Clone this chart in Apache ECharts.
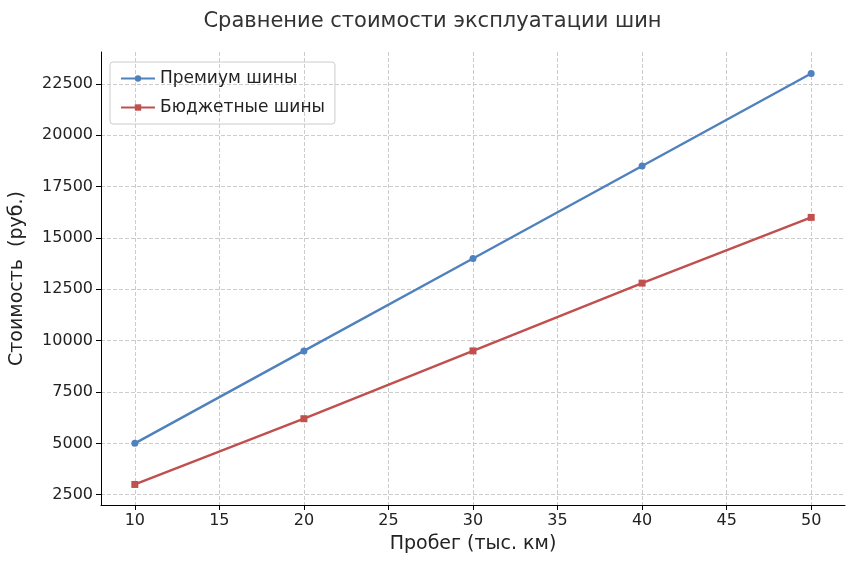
<!DOCTYPE html>
<html>
<head>
<meta charset="utf-8">
<script src="https://cdn.jsdelivr.net/npm/echarts@6/dist/echarts.min.js"></script>
<style>html,body{margin:0;padding:0;background:#fff}#chart{width:865px;height:563px}</style>
</head>
<body>
<div id="chart"></div>
<script>
// данные
const mileage = [10, 20, 30, 40, 50]
const premium = [5000, 9500, 14000, 18500, 23000]
const budget = [3000, 6200, 9500, 12800, 16000]
const xTicks = [10, 15, 20, 25, 30, 35, 40, 45, 50]
const yTicks = [2500, 5000, 7500, 10000, 12500, 15000, 17500, 20000, 22500]

const font = 'DejaVu Sans'
const chart = echarts.init(document.getElementById('chart'))
chart.setOption({
  animation: false,
  textStyle: { fontFamily: font },
  title: {
    text: 'Сравнение стоимости эксплуатации шин',
    left: 'center', top: 6,
    textStyle: { fontFamily: font, fontSize: 21, fontWeight: 'normal', color: '#333' }
  },
  legend: {
    left: 110, top: 62, orient: 'vertical',
    borderColor: '#ccc', borderWidth: 1, borderRadius: 3, padding: [8, 10],
    itemWidth: 34, itemHeight: 8, itemGap: 12,
    textStyle: { fontFamily: font, fontSize: 17, color: '#222' }
  },
  grid: { left: 100, right: 20, top: 52, bottom: 58 },
  xAxis: {
    type: 'value', min: 8, max: 52,
    name: 'Пробег (тыс. км)', nameLocation: 'middle', nameGap: 30,
    nameTextStyle: { fontSize: 19, color: '#222' },
    axisLine: { lineStyle: { color: '#000' } },
    axisTick: { customValues: xTicks, lineStyle: { color: '#000' } },
    axisLabel: { customValues: xTicks, fontSize: 16, color: '#222' },
    splitLine: { show: true, lineStyle: { type: 'dashed', color: '#ccc' } }
  },
  yAxis: {
    type: 'value', min: 2000, max: 24050,
    name: 'Стоимость  (руб.)', nameLocation: 'middle', nameGap: 74,
    nameTextStyle: { fontSize: 19, color: '#222' },
    axisLine: { show: true, lineStyle: { color: '#000' } },
    axisTick: { show: true, customValues: yTicks, lineStyle: { color: '#000' } },
    axisLabel: { customValues: yTicks, fontSize: 16, color: '#222', formatter: v => String(v) },
    splitLine: { show: true, lineStyle: { type: 'dashed', color: '#ccc' } }
  },
  series: [
    {
      name: 'Премиум шины', type: 'line', symbol: 'circle', symbolSize: 7,
      data: mileage.map((m, i) => [m, premium[i]]),
      itemStyle: { color: '#4f81bd' }, lineStyle: { width: 2.4 }
    },
    {
      name: 'Бюджетные шины', type: 'line', symbol: 'rect', symbolSize: 7,
      data: mileage.map((m, i) => [m, budget[i]]),
      itemStyle: { color: '#c0504d' }, lineStyle: { width: 2.4 }
    }
  ]
})
</script>
</body>
</html>
